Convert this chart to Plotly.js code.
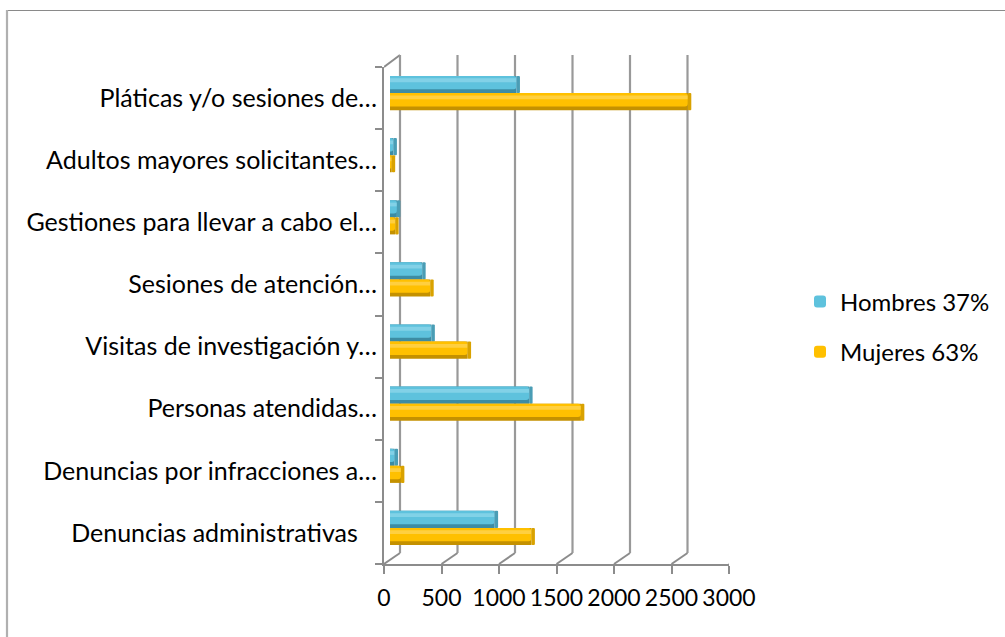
<!DOCTYPE html>
<html>
<head>
<meta charset="utf-8">
<script src="https://cdn.plot.ly/plotly-3.0.1.min.js"></script>
<style>html,body{margin:0;padding:0;background:#fff;}#chart{width:1005px;height:637px;}</style>
</head>
<body>
<div id="chart"></div>
<script>
// ---- data (top to bottom as displayed) ----
const categories = [
  "Pláticas y/o sesiones de…",
  "Adultos mayores solicitantes…",
  "Gestiones para llevar a cabo el…",
  "Sesiones de atención…",
  "Visitas de investigación y…",
  "Personas atendidas…",
  "Denuncias por infracciones a…",
  "Denuncias administrativas\u00a0\u00a0\u00a0"
];
const hombres = [1100, 30, 60, 280, 360, 1210, 40, 910];
const mujeres = [2590, 15, 45, 350, 675, 1660, 95, 1230];
const seriesNames = ["Hombres 37%", "Mujeres 63%"];
const xTicks = [0, 500, 1000, 1500, 2000, 2500, 3000];

// ---- geometry helpers ----
const W = 1005, H = 637;
const px = v => v / W;
const py = v => 1 - v / H;
const catRange = [categories.length - 0.5, -0.5];
const CAP = 30; // visual length of the cylinder end face (axis units)

const BW = 0.275;
function layers(values, name, offset, cols, group) {
  return [
    {type:'bar', orientation:'h', y:categories, x:values, xaxis:'x3', yaxis:'y3',
     offset:offset, width:BW, marker:{color:cols.dark, cornerradius:3}, showlegend:false, legendgroup:group, hoverinfo:'skip'},
    {type:'bar', orientation:'h', y:categories, x:values, xaxis:'x3', yaxis:'y3',
     offset:offset, width:BW*0.78, marker:{color:cols.main, cornerradius:3}, name:name, showlegend:true, legendgroup:group, hoverinfo:'skip'},
    {type:'bar', orientation:'h', y:categories, x:values, xaxis:'x3', yaxis:'y3',
     offset:offset + BW*0.14, width:BW*0.22, marker:{color:cols.light}, showlegend:false, legendgroup:group, hoverinfo:'skip', opacity:0.6},
    // rounded end face of the cylinder
    {type:'bar', orientation:'h', y:categories, base:values, x:values.map(() => CAP), xaxis:'x3', yaxis:'y3',
     offset:offset, width:BW, marker:{color:cols.cap, cornerradius:3}, showlegend:false, legendgroup:group, hoverinfo:'skip'}
  ];
}
const colH = {dark:'#3D8CA3', main:'#5EC2DD', light:'#9ADCEE', cap:'#4A9DB5'};
const colM = {dark:'#C49100', main:'#FFC000', light:'#FFDA6A', cap:'#D9A200'};

const traces = [].concat(
  layers(hombres, seriesNames[0], -BW, colH, 'h'),
  layers(mujeres, seriesNames[1], 0, colM, 'm')
);

const gray = '#8C8C8C';
const shapes = [
  // outer chart border (top and left edges)
  {type:'line', xref:'paper', yref:'paper', x0:px(6), x1:1, y0:py(10.5), y1:py(10.5), line:{color:'#8A8A8A', width:1.2}},
  {type:'line', xref:'paper', yref:'paper', x0:px(7), x1:px(7), y0:py(10), y1:0, line:{color:'#B0B0B0', width:2.2}},
  // top-left wall edge
  {type:'line', xref:'x', yref:'paper', xsizemode:'pixel', ysizemode:'pixel', xanchor:0, yanchor:py(67), x0:0, x1:16, y0:0, y1:12, line:{color:gray, width:2}, layer:'below'}
];
xTicks.forEach(v => {
  // floor diagonal from front axis to back wall
  shapes.push({type:'line', xref:'x', yref:'paper', xsizemode:'pixel', ysizemode:'pixel',
    xanchor:v, yanchor:py(564), x0:0, x1:16, y0:0, y1:11, line:{color:gray, width:2}, layer:'below'});
  // back-wall gridline
  shapes.push({type:'line', xref:'x', yref:'paper', xsizemode:'pixel',
    xanchor:v, x0:16, x1:16, y0:py(553), y1:py(55), line:{color:'#999999', width:2.2}, layer:'below'});
});

const layout = {
  width: W, height: H,
  margin: {l:0, r:0, t:0, b:0},
  paper_bgcolor: '#ffffff',
  plot_bgcolor: 'rgba(0,0,0,0)',
  font: {family: 'Lato, "Noto Sans", sans-serif', color: '#000000'},
  hovermode: false,
  barmode: 'overlay',
  showlegend: true,
  legend: {x: px(800), xanchor: 'left', y: py(327), yanchor: 'middle',
           font: {size: 24, color: '#000'}, traceorder: 'grouped', tracegroupgap: 16,
           bgcolor: 'rgba(0,0,0,0)'},
  // front axes (labels, axis lines)
  xaxis: {domain: [px(384), px(729)], range: [0, 3000], anchor: 'y',
          tickmode: 'array', tickvals: xTicks, ticktext: xTicks.map(String), showgrid: false, zeroline: false,
          showline: true, linecolor: gray, linewidth: 2,
          ticks: 'outside', ticklen: 8, tickcolor: gray, tickwidth: 2,
          ticklabelstandoff: 4, tickfont: {size: 23, color: '#000'}},
  yaxis: {domain: [py(564), py(67)], type: 'category', categoryorder: 'array', categoryarray: categories,
          tickmode: 'array', tickvals: categories, ticktext: categories,
          range: catRange, autorange: false, anchor: 'x', showgrid: false, zeroline: false,
          showline: true, linecolor: gray, linewidth: 2,
          ticks: 'outside', ticklen: 7, tickcolor: gray, tickwidth: 2, tickson: 'boundaries',
          tickfont: {size: 25, color: '#000'}},
  // bar plane (mid-depth)
  xaxis3: {domain: [px(390), px(735)], range: [0, 3000], anchor: 'y3', visible: false, showgrid: false, zeroline: false},
  yaxis3: {domain: [py(559), py(62)], type: 'category', categoryorder: 'array', categoryarray: categories,
           range: catRange, autorange: false, anchor: 'x3', visible: false, showgrid: false, zeroline: false},
  shapes: shapes
};

Plotly.newPlot('chart', traces, layout, {displayModeBar: false, staticPlot: true});
</script>
</body>
</html>
